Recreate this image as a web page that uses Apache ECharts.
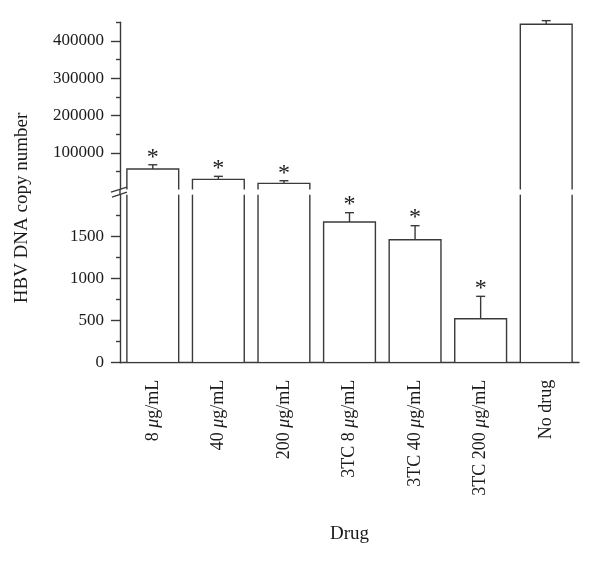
<!DOCTYPE html>
<html><head><meta charset="utf-8">
<script src="https://cdn.jsdelivr.net/npm/echarts@6/dist/echarts.min.js"></script>
<style>html,body{margin:0;padding:0;background:#fff}#c{width:600px;height:563px}</style>
</head><body><div id="c"></div>
<script>
const categories = ['8 μg/mL', '40 μg/mL', '200 μg/mL', '3TC 8 μg/mL', '3TC 40 μg/mL', '3TC 200 μg/mL', 'No drug'];
const values = [57000, 29500, 18800, 1675, 1464, 524, 444700];
const errors = [11500, 8000, 7000, 111, 167, 266, 9700];
const significant = [1, 1, 1, 1, 1, 1, 0];
const upperTicks = [100000, 200000, 300000, 400000];
const upperMinorTicks = [50000, 150000, 250000, 350000, 450000];
const lowerTicks = [0, 500, 1000, 1500];
const lowerMinorTicks = [250, 750, 1250, 1750];
const breakValue = 2000;
const upperMax = 450000;
const yName = 'HBV DNA copy number';
const xName = 'Drug';

const FONT = 'Liberation Serif';
const LINE = '#3a3a3a';
const TEXT = '#1a1a1a';
const GL = 120, GW = 459;
const UT = 22.3, UH = 167.3;
const LT = 194.7, LH = 168;

const chart = echarts.init(document.getElementById('c'), null, {renderer: 'canvas'});
const seriesData = values.map((v, i) => [i, v, errors[i], significant[i]]);
const ls = () => ({stroke: LINE, lineWidth: 1.4, fill: null});

function errAndStar(api, cx, yTop, v, e, s, children) {
  const yE = api.coord([0, v + e])[1];
  children.push({type: 'line', shape: {x1: cx, y1: yTop, x2: cx, y2: yE}, style: ls()});
  children.push({type: 'line', shape: {x1: cx - 4.5, y1: yE, x2: cx + 4.5, y2: yE}, style: ls()});
  if (s) {
    children.push({type: 'text', style: {text: '*', x: cx, y: yE + 4.5, align: 'center', verticalAlign: 'bottom',
      fontFamily: FONT, fontSize: 24, fill: TEXT}});
  }
}

function renderUpper(params, api) {
  const i = api.value(0), v = api.value(1), e = api.value(2), s = api.value(3);
  if (v <= breakValue) return null;
  const w = api.size([1, 0])[0] * 0.79;
  const cx = api.coord([i, v])[0];
  const yTop = api.coord([i, v])[1];
  const yB = api.coord([i, breakValue])[1];
  const x0 = cx - w / 2, x1 = cx + w / 2;
  const ch = [];
  ch.push({type: 'rect', shape: {x: x0, y: yTop, width: w, height: yB - yTop}, style: {fill: '#fff'}});
  ch.push({type: 'polyline', shape: {points: [[x0, yB], [x0, yTop], [x1, yTop], [x1, yB]]}, style: ls()});
  errAndStar(api, cx, yTop, v, e, s, ch);
  return {type: 'group', children: ch};
}

function renderLower(params, api) {
  const i = api.value(0), v = api.value(1), e = api.value(2), s = api.value(3);
  const w = api.size([1, 0])[0] * 0.79;
  const cx = api.coord([i, 0])[0];
  const y0 = api.coord([i, 0])[1];
  const x0 = cx - w / 2, x1 = cx + w / 2;
  const ch = [];
  if (v > breakValue) {
    const yT = api.coord([i, breakValue])[1];
    ch.push({type: 'rect', shape: {x: x0, y: yT, width: w, height: y0 - yT - 1}, style: {fill: '#fff'}});
    ch.push({type: 'line', shape: {x1: x0, y1: y0, x2: x0, y2: yT}, style: ls()});
    ch.push({type: 'line', shape: {x1: x1, y1: y0, x2: x1, y2: yT}, style: ls()});
  } else {
    const yTop = api.coord([i, v])[1];
    ch.push({type: 'rect', shape: {x: x0, y: yTop, width: w, height: y0 - yTop - 1}, style: {fill: '#fff'}});
    ch.push({type: 'polyline', shape: {points: [[x0, y0], [x0, yTop], [x1, yTop], [x1, y0]]}, style: ls()});
    errAndStar(api, cx, yTop, v, e, s, ch);
  }
  return {type: 'group', children: ch};
}

const labelStyle = {fontFamily: FONT, fontSize: 17, color: TEXT};
const axisLineStyle = {color: LINE, width: 1.4};
const plain = (v) => String(v);

const option = {
  animation: false,
  backgroundColor: '#fff',
  grid: [
    {left: GL, width: GW, top: UT, height: UH},
    {left: GL, width: GW, top: LT, height: LH}
  ],
  xAxis: [
    {type: 'category', gridIndex: 0, data: categories, show: false},
    {type: 'category', gridIndex: 1, data: categories, position: 'bottom',
      name: xName, nameLocation: 'middle', nameGap: 162,
      nameTextStyle: {fontFamily: FONT, fontSize: 19, color: TEXT},
      axisLine: {lineStyle: axisLineStyle},
      axisTick: {alignWithLabel: true, length: 8, lineStyle: axisLineStyle},
      axisLabel: {fontFamily: FONT, fontSize: 18, color: TEXT, rotate: 90, margin: 17, interval: 0,
        formatter: (v) => v.replace('μ', '{i|μ}'),
        rich: {i: {fontFamily: FONT, fontSize: 18, fontStyle: 'italic', color: TEXT}}}},
    {type: 'category', gridIndex: 1, data: categories, position: 'bottom', offset: 0,
      axisLine: {show: false}, axisLabel: {show: false},
      axisTick: {alignWithLabel: false, length: 3.5, lineStyle: axisLineStyle}}
  ],
  yAxis: [
    {type: 'value', gridIndex: 0, min: breakValue, max: upperMax, position: 'left', splitLine: {show: false},
      axisLine: {show: true, lineStyle: axisLineStyle},
      axisTick: {show: true, length: 9, customValues: upperTicks, lineStyle: axisLineStyle},
      axisLabel: Object.assign({}, labelStyle, {margin: 16, customValues: upperTicks, formatter: plain})},
    {type: 'value', gridIndex: 0, min: breakValue, max: upperMax, position: 'left', offset: 0, splitLine: {show: false},
      axisLine: {show: false}, axisLabel: {show: false},
      axisTick: {show: true, length: 4, customValues: upperMinorTicks, lineStyle: axisLineStyle}},
    {type: 'value', gridIndex: 1, min: 0, max: breakValue, position: 'left', splitLine: {show: false},
      axisLine: {show: true, lineStyle: axisLineStyle},
      axisTick: {show: true, length: 9, customValues: lowerTicks, lineStyle: axisLineStyle},
      axisLabel: Object.assign({}, labelStyle, {margin: 16, customValues: lowerTicks, formatter: plain})},
    {type: 'value', gridIndex: 1, min: 0, max: breakValue, position: 'left', offset: 0, splitLine: {show: false},
      axisLine: {show: false}, axisLabel: {show: false},
      axisTick: {show: true, length: 4, customValues: lowerMinorTicks, lineStyle: axisLineStyle}}
  ],
  series: [
    {type: 'custom', xAxisIndex: 0, yAxisIndex: 0, data: seriesData, encode: {x: 0, y: 1}, renderItem: renderUpper, z: 3},
    {type: 'custom', xAxisIndex: 1, yAxisIndex: 2, data: seriesData, encode: {x: 0, y: 1}, renderItem: renderLower, z: 3}
  ]
};
chart.setOption(option);

const yUB = chart.convertToPixel({yAxisIndex: 0}, breakValue);
const yLT = chart.convertToPixel({yAxisIndex: 2}, breakValue);
chart.setOption({
  graphic: [
    {type: 'line', shape: {x1: GL, y1: yUB, x2: GL, y2: yLT}, style: {stroke: LINE, lineWidth: 1.4}, z: 10},
    {type: 'line', shape: {x1: GL - 9, y1: yUB + 2.5, x2: GL + 7, y2: yUB - 2.5}, style: {stroke: LINE, lineWidth: 1.4}, z: 10},
    {type: 'line', shape: {x1: GL - 8, y1: yLT + 2.5, x2: GL + 7, y2: yLT - 2.5}, style: {stroke: LINE, lineWidth: 1.4}, z: 10},
    {type: 'text', x: 22, y: 208, rotation: Math.PI / 2,
      style: {text: yName, align: 'center', verticalAlign: 'middle', fontFamily: FONT, fontSize: 19, fill: TEXT}}
  ]
});
</script>
</body></html>
